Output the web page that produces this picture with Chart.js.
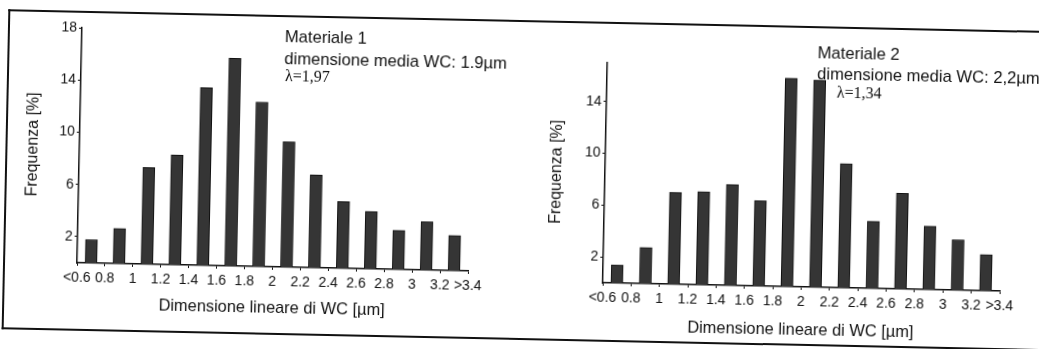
<!DOCTYPE html>
<html>
<head>
<meta charset="utf-8">
<style>
  body { margin: 0; background: #fff; overflow: hidden; }
  #page { position: relative; width: 1039px; height: 349px; transform: rotate(1.2deg); transform-origin: 519.5px 174.5px; }
  #frame { position: absolute; left: 5px; top: 20px; width: 1100px; height: 316px; border: 2px solid #111; border-right: none; }
  canvas { position: absolute; top: 0; }
  .note { position: absolute; font-family: "Liberation Sans", Arial, sans-serif; font-size: 16.6px; line-height: 16px; color: #111; white-space: nowrap; }
  .lam { font-family: "Liberation Serif", "Times New Roman", serif; font-size: 16px; }
</style>
</head>
<body>
<div id="page">
  <div id="frame"></div>
  <canvas id="chart1" width="520" height="349" style="left:0px"></canvas>
  <canvas id="chart2" width="519" height="349" style="left:520px"></canvas>
  <div class="note" style="left:282px; top:34px">Materiale 1</div>
  <div class="note" style="left:282px; top:56px">dimensione media WC: 1.9µm</div>
  <div class="note lam" style="left:283px; top:73px">λ=1,97</div>
  <div class="note" style="left:815px; top:39px">Materiale 2</div>
  <div class="note" style="left:815px; top:60px">dimensione media WC: 2,2µm</div>
  <div class="note lam" style="left:835px; top:78px">λ=1,34</div>
</div>

<script src="https://cdn.jsdelivr.net/npm/chart.js"></script>
<script>
  // etichette dell'asse x (classi di dimensione)
  const xLabels = ['<0.6', '0.8', '1', '1.2', '1.4', '1.6', '1.8', '2', '2.2', '2.4', '2.6', '2.8', '3', '3.2', '>3.4'];

  // frequenze [%] per classe
  const materiale1 = [1.8, 2.7, 7.4, 8.4, 13.6, 15.9, 12.6, 9.6, 7.1, 5.1, 4.4, 3.0, 3.7, 2.7];
  const materiale2 = [1.4, 2.8, 7.1, 7.2, 7.8, 6.6, 16.1, 16.0, 9.6, 5.2, 7.4, 4.9, 3.9, 2.8];

  // tacche asse y
  const yTicks1 = [2, 6, 10, 14, 18];
  const yTicks2 = [2, 6, 10, 14];
  const yMax1 = 18;
  const yMax2 = 17;

  const font = 'Liberation Sans, Arial, sans-serif';

  function makeChart(id, values, yTicks, yMax, box) {
    const points = values.map((v, i) => ({ x: i + 0.5, y: v }));
    return new Chart(document.getElementById(id), {
      type: 'bar',
      data: {
        datasets: [{
          data: points,
          backgroundColor: '#353535',
          borderColor: '#111',
          borderWidth: 1,
          barThickness: 12
        }]
      },
      options: {
        responsive: false,
        animation: false,
        layout: { padding: { left: 0, top: box.top, right: box.right, bottom: 0 } },
        plugins: { legend: { display: false }, tooltip: { enabled: false } },
        scales: {
          x: {
            type: 'linear',
            offset: false,
            min: 0,
            max: 14,
            afterBuildTicks: s => { s.ticks = xLabels.map((_, i) => ({ value: i })); },
            afterFit: s => { s.height = box.xh; },
            ticks: {
              autoSkip: false,
              maxRotation: 0,
              padding: 4,
              color: '#111',
              font: { family: font, size: 14 },
              callback: v => xLabels[v]
            },
            grid: { display: true, offset: false, drawOnChartArea: false, drawTicks: true, tickLength: 3, color: '#111', lineWidth: 1 },
            border: { display: true, color: '#111', width: 1.5 },
            title: {
              display: true,
              text: 'Dimensione lineare di WC [µm]',
              color: '#111',
              font: { family: font, size: 16.4 },
              padding: { top: 0, bottom: box.xtb }
            }
          },
          y: {
            min: 0,
            max: yMax,
            afterBuildTicks: s => { s.ticks = yTicks.map(v => ({ value: v })); },
            afterFit: s => { s.width = box.yw; },
            ticks: {
              padding: 2,
              color: '#111',
              font: { family: font, size: 14 }
            },
            grid: { display: true, drawOnChartArea: false, drawTicks: true, tickLength: 3, color: '#111', lineWidth: 1 },
            border: { display: true, color: '#111', width: 1.5 },
            title: {
              display: true,
              text: 'Frequenza [%]',
              color: '#111',
              font: { family: font, size: 16 },
              padding: { top: box.ytp, bottom: 0 }
            }
          }
        }
      }
    });
  }

  makeChart('chart1', materiale1, yTicks1, yMax1, { top: 37, right: 50, xh: 77, xtb: 26, yw: 79, ytp: 23 });
  makeChart('chart2', materiale2, yTicks2, yMax2, { top: 61, right: 37, xh: 68, xtb: 15, yw: 85, ytp: 27 });
</script>
</body>
</html>
